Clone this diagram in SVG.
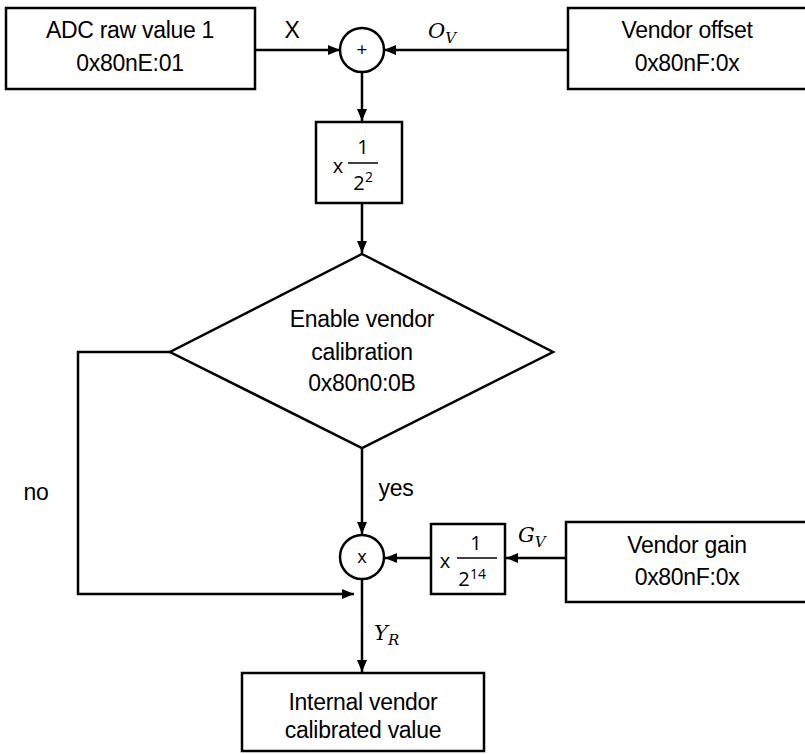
<svg xmlns="http://www.w3.org/2000/svg" width="805" height="754" viewBox="0 0 805 754">
<defs>
<marker id="ah" viewBox="0 0 12 10" refX="12" refY="5" markerWidth="12" markerHeight="10" markerUnits="userSpaceOnUse" orient="auto">
<path d="M0,0 L12,5 L0,10 Z" fill="#000"/>
</marker>
</defs>
<style>
.box{fill:#fff;stroke:#000;stroke-width:2.5}
.t{font-family:"Liberation Sans",Arial,sans-serif;font-size:23px;fill:#000;text-anchor:middle;dominant-baseline:central;letter-spacing:-0.3px}
.m{font-family:"DejaVu Serif","Liberation Serif",serif;font-style:italic;font-size:21px;fill:#000}
.s{font-family:"Open Sans","Liberation Sans",sans-serif;font-size:20px;fill:#000;text-anchor:middle;dominant-baseline:central}
.c{fill:none;stroke:#000;stroke-width:2.5}
</style>
<g id="adc"><rect class="box" x="6" y="8" width="249" height="81"/><text class="t" x="130" y="30">ADC raw value 1</text><text class="t" x="130" y="63">0x80nE:01</text></g>
<g id="voffset"><rect class="box" x="568" y="8" width="240" height="81"/><text class="t" x="687" y="30">Vendor offset</text><text class="t" x="687" y="63">0x80nF:0x</text></g>
<g id="sum"><circle class="box" cx="362" cy="50" r="22"/><text class="s" x="362" y="49" style="font-size:19px">+</text></g>
<g id="div4"><rect class="box" x="316" y="122" width="86" height="81"/><text class="s" x="338" y="165">x</text><line x1="348" y1="163" x2="378" y2="163" stroke="#000" stroke-width="1.5"/><text class="s" x="363" y="146">1</text><text class="s" x="359" y="182">2</text><text class="s" x="369" y="176" style="font-size:14px">2</text></g>
<g id="decision"><polygon class="box" points="362,254 553,352 362,448 170,352"/><text class="t" x="362" y="319">Enable vendor</text><text class="t" x="362" y="352">calibration</text><text class="t" x="362" y="383">0x80n0:0B</text></g>
<g id="mul"><circle class="box" cx="362" cy="557" r="22"/><text class="s" x="362" y="556" style="font-size:18px">x</text></g>
<g id="div14"><rect class="box" x="431" y="524" width="74" height="70"/><text class="s" x="445" y="560">x</text><line x1="457" y1="558" x2="497" y2="558" stroke="#000" stroke-width="1.5"/><text class="s" x="476" y="542">1</text><text class="s" x="464" y="578">2</text><text class="s" x="478" y="573" style="font-size:14px">14</text></g>
<g id="vgain"><rect class="box" x="566" y="522" width="242" height="80"/><text class="t" x="687" y="545">Vendor gain</text><text class="t" x="687" y="577">0x80nF:0x</text></g>
<g id="out"><rect class="box" x="242" y="673" width="242" height="78"/><text class="t" x="363" y="702">Internal vendor</text><text class="t" x="363" y="730">calibrated value</text></g>
<g id="connectors">
<line class="c" x1="255" y1="50" x2="340" y2="50" marker-end="url(#ah)"/>
<line class="c" x1="568" y1="50" x2="384" y2="50" marker-end="url(#ah)"/>
<line class="c" x1="362" y1="72" x2="362" y2="121" marker-end="url(#ah)"/>
<line class="c" x1="362" y1="203" x2="362" y2="253" marker-end="url(#ah)"/>
<line class="c" x1="362" y1="448" x2="362" y2="534" marker-end="url(#ah)"/>
<polyline class="c" points="170,352 78,352 78,594 354,594" marker-end="url(#ah)"/>
<line class="c" x1="431" y1="558" x2="385" y2="558" marker-end="url(#ah)"/>
<line class="c" x1="566" y1="558" x2="506" y2="558" marker-end="url(#ah)"/>
<line class="c" x1="362" y1="579" x2="362" y2="672" marker-end="url(#ah)"/>
</g>
<g id="labels">
<text class="t" x="292" y="30">X</text>
<text class="m" x="428" y="38">O<tspan dy="5" font-size="15">V</tspan></text>
<text class="t" x="396" y="488">yes</text>
<text class="t" x="36" y="492">no</text>
<text class="m" x="518" y="542">G<tspan dy="5" font-size="15">V</tspan></text>
<text class="m" x="374" y="640">Y<tspan dy="5" font-size="15">R</tspan></text>
</g>
</svg>
